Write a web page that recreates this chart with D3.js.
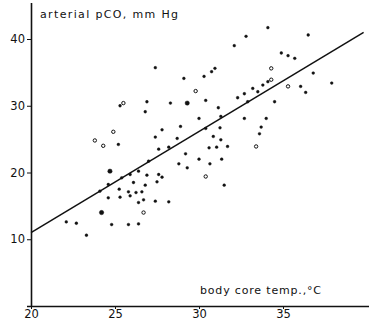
<!DOCTYPE html>
<html><head><meta charset="utf-8">
<script src="https://cdn.jsdelivr.net/npm/d3@7"></script>
<style>html,body{margin:0;padding:0;background:#fff;}svg{display:block;}</style>
</head><body>
<svg id="c" width="369" height="331"></svg>
<script>
// body core temperature (°C)
const tempC = [25.3,25.5,24.9,23.8,24.3,25.2,24.7,25.9,25.4,26.1,24.6,25.25,25.8,26.25,24.1,24.6,25.3,25.9,26.4,24.2,22.1,22.7,24.8,25.8,26.4,23.3,
27.4,30.95,30.75,29.1,30.3,29.8,32.7,26.9,28.3,29.3,30.4,31.15,26.8,30.0,31.3,28.9,27.8,30.4,31.25,27.4,28.7,30.85,31.3,27.6,28.2,30.6,31.05,31.7,
27.0,29.2,26.4,28.8,30.0,29.3,30.65,31.35,26.9,27.6,27.8,27.5,30.4,31.5,26.8,26.6,26.7,27.4,28.2,26.7,
34.1,32.8,36.5,32.1,34.9,35.3,35.7,34.3,36.8,37.9,33.8,34.1,34.3,33.2,33.5,35.3,36.05,36.35,32.3,32.9,34.5,32.7,34.0,33.7,33.6,33.4];
// arterial pCO2 (mm Hg)
const pco2 = [30.0,30.4,26.1,24.8,24.0,24.2,20.2,19.7,19.2,18.5,18.2,17.5,17.1,17.0,17.2,16.2,16.3,16.5,15.5,14.0,12.6,12.4,12.2,12.2,12.3,10.6,
35.7,35.6,35.1,34.1,34.4,32.2,31.8,30.6,30.4,30.4,30.8,29.7,29.1,28.1,28.4,26.9,26.4,26.6,26.7,25.3,25.1,25.4,24.9,23.5,23.8,23.7,23.8,23.9,
21.7,22.8,20.2,21.3,22.0,20.7,21.3,22.0,19.6,19.7,19.3,18.6,19.4,18.1,18.1,17.1,15.9,15.7,15.6,14.0,
41.7,40.4,40.6,39.0,37.9,37.5,37.1,35.6,34.9,33.4,33.1,33.6,33.9,32.6,32.1,32.9,32.9,32.0,31.2,30.6,30.6,28.1,28.1,26.8,25.8,23.9];
// marker kind: 0 = small dot, 1 = open circle, 2 = big dot
const markerKind = [0,1,1,1,1,0,2,0,0,0,0,0,0,0,0,0,0,0,0,2,0,0,0,0,0,0,
0,0,0,0,0,1,0,0,0,2,0,0,0,0,0,0,0,0,0,0,0,0,0,0,0,0,0,0,
0,0,0,0,0,0,0,0,0,0,0,0,1,0,0,0,0,0,0,1,
0,0,0,0,0,0,0,1,0,0,0,0,1,0,0,1,0,0,0,0,0,0,0,0,0,1];
// regression line end points
const lineTemp = [20, 39.8];
const linePco2 = [11, 41];
const xTicks = [20, 25, 30, 35];
const yTicks = [10, 20, 30, 40];

const svg = d3.select("#c");
const x = d3.scaleLinear().domain([20, 40]).range([31, 367]);
const y = d3.scaleLinear().domain([0, 40]).range([306, 39]);
const ink = "#111";

// x axis
const xAxis = d3.axisBottom(x).tickValues(xTicks).tickSize(3).tickPadding(1).tickFormat(d3.format("d"));
const gx = svg.append("g").attr("transform", `translate(0,${y(0)})`).call(xAxis);
gx.select(".domain").attr("d", `M27,0.5H369`).attr("stroke", ink).attr("stroke-width", 1.6);
gx.selectAll(".tick line").attr("stroke", ink);
gx.selectAll(".tick text").attr("font-family", "DejaVu Sans").attr("font-size", 11.5).attr("fill", ink);

// y axis
const yAxis = d3.axisLeft(y).tickValues(yTicks).tickSize(4).tickPadding(2).tickFormat(d3.format("d"));
const gy = svg.append("g").attr("transform", `translate(${x(20)},0)`).call(yAxis);
gy.select(".domain").attr("d", `M0.5,3V${y(0)}`).attr("stroke", ink).attr("stroke-width", 1.6);
gy.selectAll(".tick line").attr("stroke", ink);
gy.selectAll(".tick text").attr("font-family", "DejaVu Sans").attr("font-size", 11.5).attr("fill", ink);

// regression line
const line = d3.line().x(d => x(d[0])).y(d => y(d[1]));
svg.append("path").datum(d3.zip(lineTemp, linePco2)).attr("d", line)
  .attr("fill", "none").attr("stroke", ink).attr("stroke-width", 1.5);

// points
const pts = d3.zip(tempC, pco2, markerKind);
svg.append("g").selectAll("circle").data(pts).join("circle")
  .attr("cx", d => x(d[0])).attr("cy", d => y(d[1]))
  .attr("r", d => d[2] === 2 ? 2.2 : (d[2] === 1 ? 1.7 : 1.4))
  .attr("fill", d => d[2] === 1 ? "none" : ink)
  .attr("stroke", ink).attr("stroke-width", d => d[2] === 1 ? 1 : 0.4);

// axis titles
svg.append("text").attr("x", 40).attr("y", 18).attr("font-family", "DejaVu Sans").attr("font-size", 11)
  .attr("fill", ink).attr("textLength", 138).attr("lengthAdjust", "spacing").text("arterial  pCO, mm Hg");
svg.append("text").attr("x", 200).attr("y", 294).attr("font-family", "DejaVu Sans").attr("font-size", 11)
  .attr("fill", ink).attr("textLength", 121).attr("lengthAdjust", "spacing").text("body  core  temp.,°C");
</script>
</body></html>
